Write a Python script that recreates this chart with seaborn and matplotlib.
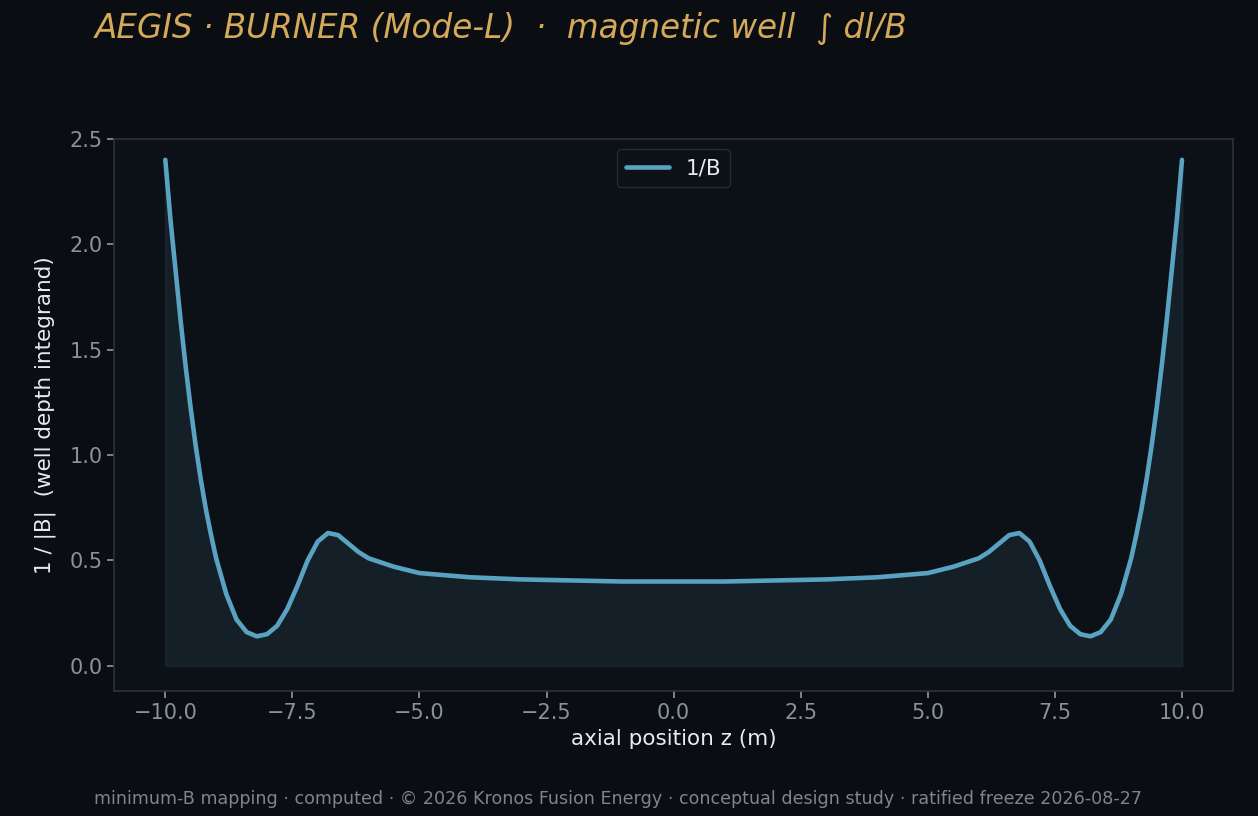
import matplotlib
matplotlib.use("Agg")
import matplotlib.pyplot as plt
import seaborn as sns
import pandas as pd

z = [-10.0, -9.9, -9.8, -9.7, -9.6, -9.5, -9.4, -9.3, -9.2, -9.1, -9.0, -8.8, -8.6, -8.4, -8.2, -8.0, -7.8, -7.6, -7.4, -7.2,
     -7.0, -6.8, -6.6, -6.4, -6.2, -6.0, -5.5, -5.0, -4.5, -4.0, -3.0, -2.0, -1.0, 0.0,
     1.0, 2.0, 3.0, 4.0, 4.5, 5.0, 5.5, 6.0, 6.2, 6.4, 6.6, 6.8, 7.0, 7.2, 7.4, 7.6,
     7.8, 8.0, 8.2, 8.4, 8.6, 8.8, 9.0, 9.1, 9.2, 9.3, 9.4, 9.5, 9.6, 9.7, 9.8, 9.9, 10.0]
inv_b = [2.40, 2.12, 1.88, 1.64, 1.42, 1.22, 1.04, 0.88, 0.74, 0.62, 0.51, 0.34, 0.22, 0.16, 0.14, 0.15, 0.19, 0.27, 0.38, 0.50,
         0.59, 0.63, 0.62, 0.58, 0.54, 0.51, 0.47, 0.44, 0.43, 0.42, 0.41, 0.405, 0.40, 0.40,
         0.40, 0.405, 0.41, 0.42, 0.43, 0.44, 0.47, 0.51, 0.54, 0.58, 0.62, 0.63, 0.59, 0.50,
         0.38, 0.27, 0.19, 0.15, 0.14, 0.16, 0.22, 0.34, 0.51, 0.62, 0.74, 0.88, 1.04, 1.22, 1.42, 1.64, 1.88, 2.12, 2.40]

df = pd.DataFrame({"z": z, "v": inv_b})

sns.set_theme(style="dark")
plt.rcParams['font.family'] = ['DejaVu Sans']
bg = "#0a0d11"
fig = plt.figure(figsize=(12.58, 8.16), dpi=100, facecolor=bg)
ax = fig.add_axes([0.091, 0.153, 0.889, 0.677])
ax.set_facecolor("#0c1017")
line_c = "#5aa2c2"
ax.fill_between(df["z"], 0, df["v"], color="#1a2a33", alpha=0.6, edgecolor="#1f2a33", linewidth=1.5)
sns.lineplot(data=df, x="z", y="v", ax=ax, color=line_c, linewidth=3.3, label="1/B")
for s in ax.spines.values():
    s.set_color("#2c313a")
    s.set_linewidth(1.2)
ax.set_xlim(-11, 11)
ax.set_ylim(-0.12, 2.5)
ax.set_xticks([-10, -7.5, -5, -2.5, 0, 2.5, 5, 7.5, 10])
ax.set_yticks([0, 0.5, 1.0, 1.5, 2.0, 2.5])
ax.tick_params(colors="#8a929e", labelsize=15, length=5, color="#8a929e", left=True, bottom=True)
ax.set_xlabel("axial position z (m)", color="#e8eaee", fontsize=15.5)
ax.set_ylabel("1 / |B|  (well depth integrand)", color="#e8eaee", fontsize=15.5, labelpad=10)
ax.grid(False)
leg = ax.legend(loc="upper center", fontsize=15.5, facecolor="#0c1017", edgecolor="#2c313a", labelcolor="#e8eaee")
fig.text(0.075, 0.965, "AEGIS · BURNER (Mode-L)  ·  magnetic well  ∫ dl/B", color="#d4a95a",
         fontsize=23.5, style="italic", va="center")
fig.text(0.075, 0.01, "minimum-B mapping · computed · © 2026 Kronos Fusion Energy · conceptual design study · ratified freeze 2026-08-27",
         color="#7d8591", fontsize=12.6, va="bottom")
fig.savefig("out.png", dpi=100, facecolor=bg)
